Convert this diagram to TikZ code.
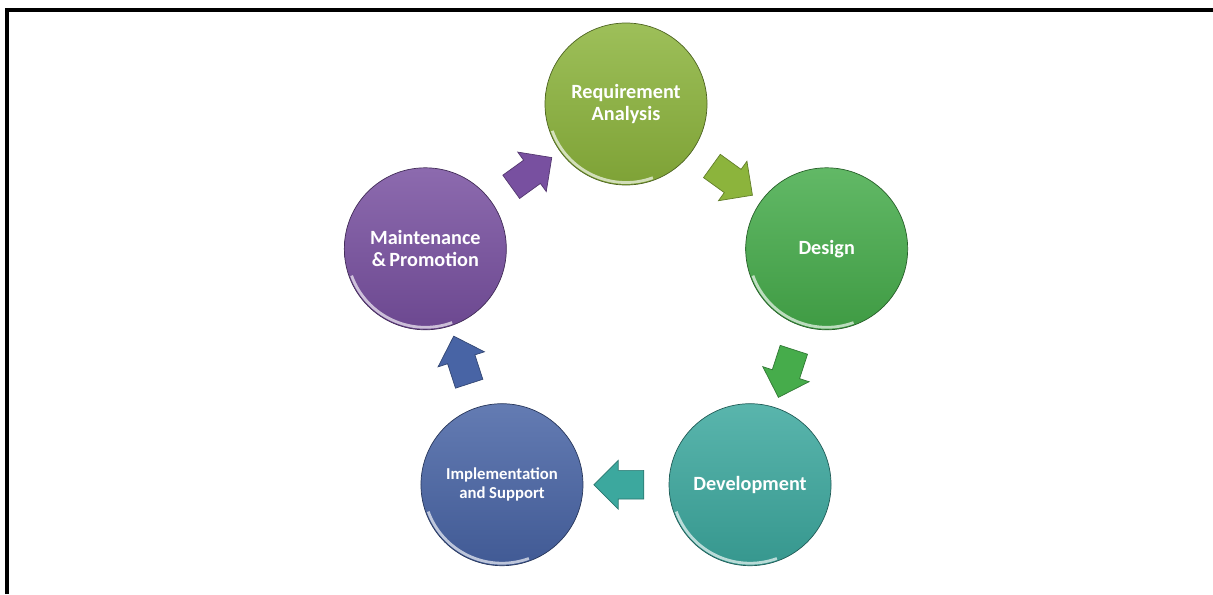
\documentclass[tikz,border=0pt]{standalone}
\usepackage{fontspec}
\setmainfont{Carlito}
\usetikzlibrary{
    shapes.arrows,
    calc
}
\definecolor{reqcol}{RGB}{140,180,60}
\definecolor{descol}{RGB}{70,172,75}
\definecolor{devcol}{RGB}{60,168,158}
\definecolor{impcol}{RGB}{72,100,165}
\definecolor{maicol}{RGB}{120,80,160}
\tikzset{
    % Frame
    frame/.style={line width=1.8pt},
    %
    % Stages of the cycle
    stage/.style={circle,minimum size=3.24cm,inner sep=0pt,align=center,text=white,
        top color=#1!85!white,bottom color=#1!90!black,draw=#1!55!black,thin,
        path picture={\draw[white,opacity=.65,line width=1.6pt]
            ([shift={(200:1.57)}]path picture bounding box.center) arc[start angle=200,end angle=290,radius=1.57];}},
    small text/.style={font=\bfseries\fontsize{9.5}{11}\selectfont},
    %
    % Block arrows between stages
    flow/.style={single arrow,minimum height=1cm,inner xsep=0pt,inner ysep=.28cm,
        single arrow head extend=.2cm,fill=#1,draw=#1!70!black,thin,sloped,allow upside down}
}
\tikzstyle{every node}=[font=\bfseries\fontsize{11.5}{12.5}\selectfont]

\begin{document}
\begin{tikzpicture}
    \useasboundingbox (0,0) rectangle (24.26,11.88);
    \draw[frame] (0.14,0) |- (24.26,11.68);

    \coordinate (C) at (12.52,5.6);
    \node[stage=reqcol] (req) at ([shift={(90:4.2)}]C) {Requirement\\Analysis};
    \node[stage=descol] (des) at ([shift={(18:4.22)}]C) {Design};
    \node[stage=devcol] (dev) at ([shift={(-54:4.22)}]C) {Development};
    \node[stage=impcol,small text] (imp) at ([shift={(-126:4.22)}]C) {Implementation\\and Support};
    \node[stage=maicol] (mai) at ([shift={(162:4.22)}]C) {Maintenance\\\&\,Promotion};

    \path (req) -- node[flow=reqcol] {} (des);
    \path (des) -- node[flow=descol] {} (dev);
    \path (dev) -- node[flow=devcol] {} (imp);
    \path (imp) -- node[flow=impcol] {} (mai);
    \path (mai) -- node[flow=maicol] {} (req);
\end{tikzpicture}
\end{document}
